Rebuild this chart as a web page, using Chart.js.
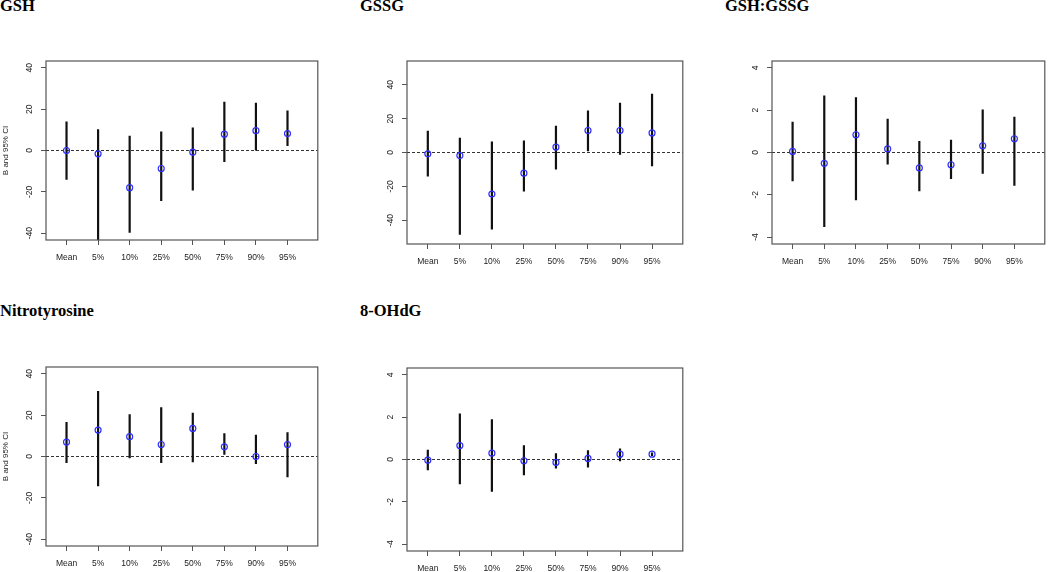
<!DOCTYPE html>
<html>
<head>
<meta charset="utf-8">
<script src="https://cdn.jsdelivr.net/npm/chart.js@4.4.1/dist/chart.umd.min.js"></script>
<style>
  body { margin: 0; background: #fff; }
  #wrap { position: relative; width: 1050px; height: 572px; overflow: hidden; }
  canvas { position: absolute; }
  .ttl { position: absolute; font: bold 16.5px "Liberation Serif", "Times New Roman", serif; line-height: 16.5px; color: #000; white-space: nowrap; }
</style>
</head>
<body>
<div id="wrap">
  <div class="ttl" style="left:0px; top:-2px;">GSH</div>
  <div class="ttl" style="left:360px; top:-2px;">GSSG</div>
  <div class="ttl" style="left:725px; top:-2px;">GSH:GSSG</div>
  <div class="ttl" style="left:0px; top:303px;">Nitrotyrosine</div>
  <div class="ttl" style="left:360px; top:303px;">8-OHdG</div>

  <canvas id="cGsh" width="323" height="217" style="left:0px; top:53px;"></canvas>
  <canvas id="cGssg" width="327" height="221" style="left:361px; top:53px;"></canvas>
  <canvas id="cRatio" width="324" height="221" style="left:726px; top:53px;"></canvas>
  <canvas id="cNitro" width="323" height="217" style="left:0px; top:359px;"></canvas>
  <canvas id="cOhdg" width="327" height="221" style="left:361px; top:360px;"></canvas>
</div>
<script>
// categorias (quantis)
const categories = ['Mean', '5%', '10%', '25%', '50%', '75%', '90%', '95%'];

// valores: estimativa B e IC 95%
const gshEst  = [0, -1.6, -18.0, -8.7, -0.8, 7.9, 9.6, 8.2];
const gshLow  = [-14.1, -46, -39.8, -24.4, -19.3, -5.6, 0, 2.2];
const gshHigh = [14.0, 10.3, 7.1, 9.2, 11.1, 23.6, 23.1, 19.3];

const gssgEst  = [-0.8, -1.8, -24.6, -12.2, 3.2, 13.0, 13.0, 11.6];
const gssgLow  = [-14.2, -48.7, -45.5, -23.1, -10.0, 0.8, -1.4, -8.1];
const gssgHigh = [12.8, 8.7, 6.5, 7.1, 15.8, 24.8, 29.4, 34.7];

const ratioEst  = [0.05, -0.51, 0.84, 0.17, -0.73, -0.58, 0.32, 0.65];
const ratioLow  = [-1.36, -3.53, -2.26, -0.57, -1.83, -1.25, -1.00, -1.57];
const ratioHigh = [1.45, 2.70, 2.62, 1.60, 0.54, 0.60, 2.04, 1.69];

const nitroEst  = [7.0, 12.8, 9.6, 5.8, 13.6, 4.7, 0, 5.8];
const nitroLow  = [-3.1, -14.4, -0.8, -3.2, -2.8, 0.8, -3.6, -10.0];
const nitroHigh = [16.7, 31.7, 20.4, 23.8, 21.2, 11.3, 10.5, 11.7];

const ohdgEst  = [-0.03, 0.66, 0.30, -0.06, -0.14, 0.05, 0.25, 0.25];
const ohdgLow  = [-0.51, -1.17, -1.53, -0.74, -0.43, -0.38, -0.08, 0.17];
const ohdgHigh = [0.46, 2.18, 1.90, 0.68, 0.30, 0.44, 0.52, 0.33];

// marcas do eixo y
const yTicksBig = [-40, -20, 0, 20, 40];
const yTicksSmall = [-4, -2, 0, 2, 4];

const xMin = -0.65, xMax = 7.96;
const fontFam = '"Liberation Sans", Arial, sans-serif';
const tickFont = { family: fontFam, size: 8.5 };

// desenha a moldura do grafico (box do R)
const boxPlugin = {
    id: 'box',
    afterDatasetsDraw(chart) {
        const { ctx, chartArea: a } = chart;
        ctx.save();
        ctx.strokeStyle = '#555';
        ctx.lineWidth = 1.2;
        ctx.strokeRect(a.left, a.top, a.right - a.left, a.bottom - a.top);
        ctx.restore();
    }
};

function widestLabel(ticks) {
    const c = document.createElement('canvas').getContext('2d');
    c.font = '8.5px ' + fontFam;
    return Math.max(...ticks.map(t => c.measureText(String(t)).width));
}

function makePanel(id, est, low, high, yMax, yTicks, yTitle, rightPad) {
    const ctx = document.getElementById(id).getContext('2d');
    const pad = 11 - widestLabel(yTicks) / 2; // centro do rotulo a 16px da caixa
    const bars = [];
    est.forEach((v, i) => {
        bars.push({ x: i, y: low[i] }, { x: i, y: high[i] }, { x: i, y: null });
    });
    return new Chart(ctx, {
        type: 'scatter',
        data: {
            datasets: [
                {
                    data: est.map((v, i) => ({ x: i, y: v })),
                    pointStyle: 'circle',
                    pointRadius: 3,
                    pointBorderWidth: 1.2,
                    pointBorderColor: '#2f2fff',
                    pointBackgroundColor: 'rgba(0,0,0,0)'
                },
                {
                    data: bars,
                    showLine: true,
                    spanGaps: false,
                    borderColor: '#111',
                    borderWidth: 2.2,
                    pointRadius: 0
                },
                {
                    data: [{ x: xMin, y: 0 }, { x: xMax, y: 0 }],
                    showLine: true,
                    borderColor: '#333',
                    borderWidth: 1.2,
                    borderDash: [3, 2],
                    pointRadius: 0
                }
            ]
        },
        options: {
            responsive: false,
            animation: false,
            events: [],
            layout: { padding: { top: 8, right: rightPad, left: 0, bottom: 0 } },
            plugins: { legend: { display: false }, tooltip: { enabled: false } },
            scales: {
                x: {
                    type: 'linear',
                    min: xMin,
                    max: xMax,
                    afterBuildTicks: s => { s.ticks = categories.map((c, i) => ({ value: i })); },
                    afterFit: s => { s.height = 30; s.paddingLeft = 0; s.paddingRight = 0; },
                    border: { display: false },
                    grid: { drawOnChartArea: false, drawTicks: true, tickLength: 5, color: '#555', lineWidth: 1 },
                    ticks: {
                        font: tickFont,
                        color: '#222',
                        padding: 8,
                        maxRotation: 0,
                        autoSkip: false,
                        callback: v => categories[v]
                    }
                },
                y: {
                    type: 'linear',
                    min: -yMax,
                    max: yMax,
                    afterBuildTicks: s => { s.ticks = yTicks.map(v => ({ value: v })); },
                    afterFit: s => { s.width = 46; s.paddingTop = 0; s.paddingBottom = 0; },
                    border: { display: false },
                    grid: { drawOnChartArea: false, drawTicks: true, tickLength: 5, color: '#555', lineWidth: 1 },
                    ticks: {
                        font: tickFont,
                        color: '#222',
                        padding: pad,
                        minRotation: 90,
                        maxRotation: 90,
                        crossAlign: 'center'
                    },
                    title: {
                        display: yTitle,
                        text: 'B and 95% CI',
                        font: { family: fontFam, size: 8 },
                        color: '#222',
                        padding: { top: 1, bottom: 0 }
                    }
                }
            }
        },
        plugins: [boxPlugin]
    });
}

makePanel('cGsh', gshEst, gshLow, gshHigh, 43.3, yTicksBig, true, 4);
makePanel('cGssg', gssgEst, gssgLow, gssgHigh, 54.1, yTicksBig, false, 4);
makePanel('cRatio', ratioEst, ratioLow, ratioHigh, 4.33, yTicksSmall, false, 1);
makePanel('cNitro', nitroEst, nitroLow, nitroHigh, 43.3, yTicksBig, true, 4);
makePanel('cOhdg', ohdgEst, ohdgLow, ohdgHigh, 4.33, yTicksSmall, false, 4);
</script>
</body>
</html>
